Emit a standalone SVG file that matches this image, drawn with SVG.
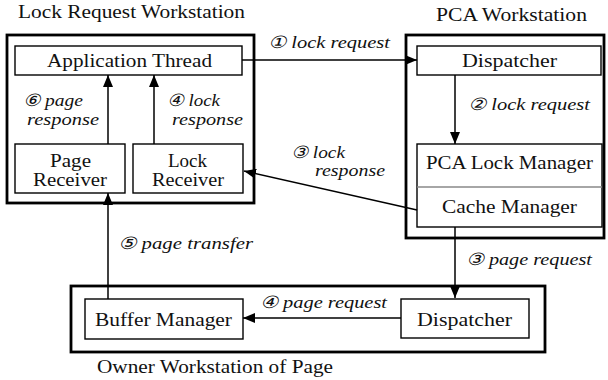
<svg xmlns="http://www.w3.org/2000/svg" width="608" height="380" viewBox="0 0 608 380">
<style>
.outer{fill:none;stroke:#000;stroke-width:2.8}
.box{fill:#fff;stroke:#000;stroke-width:1.4}
.t{font-family:'Liberation Serif','Times New Roman',serif;font-size:18px;fill:#111}
.c{text-anchor:middle}
.lbl{font-family:'Liberation Serif','Times New Roman',serif;font-size:17px;font-style:italic;fill:#111}
.conn{fill:none;stroke:#000;stroke-width:1.5}
</style>
<defs>
<marker id="ah" viewBox="0 0 12 10" refX="12" refY="5" markerWidth="12" markerHeight="10" markerUnits="userSpaceOnUse" orient="auto">
<path d="M0,0 L12,5 L0,10 z" fill="#000"/>
</marker>
</defs>
<rect width="608" height="380" fill="#fff"/>

<g id="lock-request-ws">
<rect class="outer" x="7" y="35" width="247" height="168"/>
<text class="t" x="18" y="18" textLength="227" lengthAdjust="spacingAndGlyphs">Lock Request Workstation</text>
</g>
<g id="pca-ws">
<rect class="outer" x="406" y="35" width="198" height="203"/>
<text class="t" x="436" y="21" textLength="151" lengthAdjust="spacingAndGlyphs">PCA Workstation</text>
</g>
<g id="owner-ws">
<rect class="outer" x="71" y="286" width="474" height="66"/>
<text class="t" x="97" y="373" textLength="236" lengthAdjust="spacingAndGlyphs">Owner Workstation of Page</text>
</g>

<g id="application-thread">
<rect class="box" x="15" y="46" width="227" height="29"/>
<text class="t c" x="129.5" y="67" textLength="165" lengthAdjust="spacingAndGlyphs">Application Thread</text>
</g>
<g id="page-receiver">
<rect class="box" x="15" y="144" width="110" height="49"/>
<text class="t c" x="70.5" y="167" textLength="41" lengthAdjust="spacingAndGlyphs">Page</text>
<text class="t c" x="70" y="186" textLength="74" lengthAdjust="spacingAndGlyphs">Receiver</text>
</g>
<g id="lock-receiver">
<rect class="box" x="133" y="144" width="110" height="49"/>
<text class="t c" x="187.5" y="167" textLength="39" lengthAdjust="spacingAndGlyphs">Lock</text>
<text class="t c" x="188" y="186" textLength="72" lengthAdjust="spacingAndGlyphs">Receiver</text>
</g>
<g id="pca-dispatcher">
<rect class="box" x="417" y="46" width="184" height="29"/>
<text class="t c" x="509.5" y="67" textLength="95" lengthAdjust="spacingAndGlyphs">Dispatcher</text>
</g>
<g id="pca-lock-cache-manager">
<rect class="box" x="417" y="144" width="185" height="83"/>
<line x1="417" y1="187" x2="602" y2="187" stroke="#888" stroke-width="1.4"/>
<text class="t c" x="509.5" y="169" textLength="167" lengthAdjust="spacingAndGlyphs">PCA Lock Manager</text>
<text class="t c" x="509.5" y="213" textLength="135" lengthAdjust="spacingAndGlyphs">Cache Manager</text>
</g>
<g id="buffer-manager">
<rect class="box" x="85" y="299" width="158" height="40"/>
<text class="t c" x="163.5" y="326" textLength="137" lengthAdjust="spacingAndGlyphs">Buffer Manager</text>
</g>
<g id="owner-dispatcher">
<rect class="box" x="401" y="299" width="128" height="39"/>
<text class="t c" x="464.5" y="326" textLength="95" lengthAdjust="spacingAndGlyphs">Dispatcher</text>
</g>

<g id="connectors">
<line class="conn" x1="242" y1="60" x2="417" y2="60" marker-end="url(#ah)"/>
<line class="conn" x1="455" y1="75" x2="455" y2="144" marker-end="url(#ah)"/>
<line class="conn" x1="417" y1="210" x2="244" y2="171" marker-end="url(#ah)"/>
<line class="conn" x1="154" y1="144" x2="154" y2="75" marker-end="url(#ah)"/>
<line class="conn" x1="108" y1="144" x2="108" y2="75" marker-end="url(#ah)"/>
<line class="conn" x1="455" y1="227" x2="455" y2="298" marker-end="url(#ah)"/>
<line class="conn" x1="401" y1="318" x2="243" y2="318" marker-end="url(#ah)"/>
<line class="conn" x1="108" y1="299" x2="108" y2="193" marker-end="url(#ah)"/>
<text class="lbl" x="268" y="48" textLength="122" lengthAdjust="spacingAndGlyphs">① lock request</text>
<text class="lbl" x="468" y="110" textLength="122" lengthAdjust="spacingAndGlyphs">② lock request</text>
<text class="lbl" x="291" y="158" textLength="54" lengthAdjust="spacingAndGlyphs">③ lock</text>
<text class="lbl" x="315" y="176" textLength="70" lengthAdjust="spacingAndGlyphs">response</text>
<text class="lbl" x="167" y="106" textLength="53" lengthAdjust="spacingAndGlyphs">④ lock</text>
<text class="lbl" x="172" y="125" textLength="71" lengthAdjust="spacingAndGlyphs">response</text>
<text class="lbl" x="23" y="106" textLength="60" lengthAdjust="spacingAndGlyphs">⑥ page</text>
<text class="lbl" x="27" y="125" textLength="72" lengthAdjust="spacingAndGlyphs">response</text>
<text class="lbl" x="118" y="249" textLength="135" lengthAdjust="spacingAndGlyphs">⑤ page transfer</text>
<text class="lbl" x="466" y="265" textLength="126" lengthAdjust="spacingAndGlyphs">③ page request</text>
<text class="lbl" x="260" y="308" textLength="127" lengthAdjust="spacingAndGlyphs">④ page request</text>
</g>
</svg>
